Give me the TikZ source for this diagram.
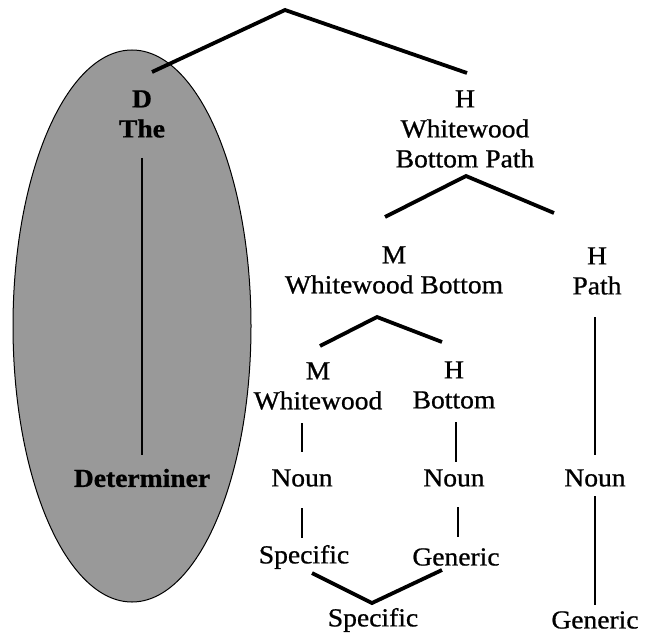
\documentclass[tikz,border=0pt]{standalone}
\usepackage{fontspec}
\setmainfont[FakeStretch=1.06,FakeBold=0.8]{Liberation Serif}
\begin{document}
\begin{tikzpicture}[x=1pt,y=-1pt,
  lbl/.style={align=center,inner sep=0pt,font=\fontsize{26}{30}\selectfont},
  blbl/.style={lbl,font=\fontsize{26}{30}\selectfont\bfseries},
  branch/.style={line width=3.8pt,line join=miter},
  stem/.style={line width=2pt}]
\useasboundingbox (0,0) rectangle (647,639);
% shaded ellipse
\draw[fill=black!40,line width=1pt] (132,326) ellipse [x radius=119pt,y radius=276pt];
% nodes
\coordinate (root) at (285,10);
\node[blbl] (dthe) at (142,114) {D\\The};
\node[blbl] (detr) at (142,478) {Determiner};
\node[lbl] (hwbp) at (465,129) {H\\Whitewood\\Bottom Path};
\node[lbl] (mwb) at (394,270) {M\\Whitewood Bottom};
\node[lbl] (hpath) at (597,271) {H\\Path};
\node[lbl] (mw) at (318,386) {M\\Whitewood};
\node[lbl] (hb) at (454,385) {H\\Bottom};
\node[lbl] (n1) at (302,478) {Noun};
\node[lbl] (n2) at (454,478) {Noun};
\node[lbl] (n3) at (595,478) {Noun};
\node[lbl] (s1) at (304,557) {Specific};
\node[lbl] (g1) at (456,557) {Generic};
\node[lbl] (s2) at (373,620) {Specific};
\node[lbl] (g2) at (595,620) {Generic};
% branches
\draw[branch] ([shift={(10,-42)}]dthe.center) -- (root) -- ([shift={(2,-56)}]hwbp.center);
\draw[branch] ([shift={(-9,-53)}]mwb.center) -- ([shift={(1,47)}]hwbp.center) -- ([shift={(-43,-58)}]hpath.center);
\draw[branch] ([shift={(2,-40)}]mw.center) -- ([shift={(-17,47)}]mwb.center) -- ([shift={(-12,-43)}]hb.center);
\draw[branch] ([shift={(8,16)}]s1.center) -- ([shift={(-1,-17)}]s2.center) -- ([shift={(-14,13)}]g1.center);
% stems
\draw[stem,line width=2.5pt] ([shift={(0,44)}]dthe.center) -- ([shift={(0,-23)}]detr.center);
\draw[stem] ([shift={(-16,37)}]mw.center) -- ([shift={(0,-26)}]n1.center);
\draw[stem] ([shift={(2,37)}]hb.center) -- ([shift={(2,-16)}]n2.center);
\draw[stem,line width=2.5pt] ([shift={(-2,46)}]hpath.center) -- ([shift={(0,-23)}]n3.center);
\draw[stem] ([shift={(0,30)}]n1.center) -- ([shift={(-2,-19)}]s1.center);
\draw[stem] ([shift={(4,29)}]n2.center) -- ([shift={(2,-20)}]g1.center);
\draw[stem,line width=2.5pt] ([shift={(0,18)}]n3.center) -- ([shift={(0,-15)}]g2.center);
\end{tikzpicture}
\end{document}
